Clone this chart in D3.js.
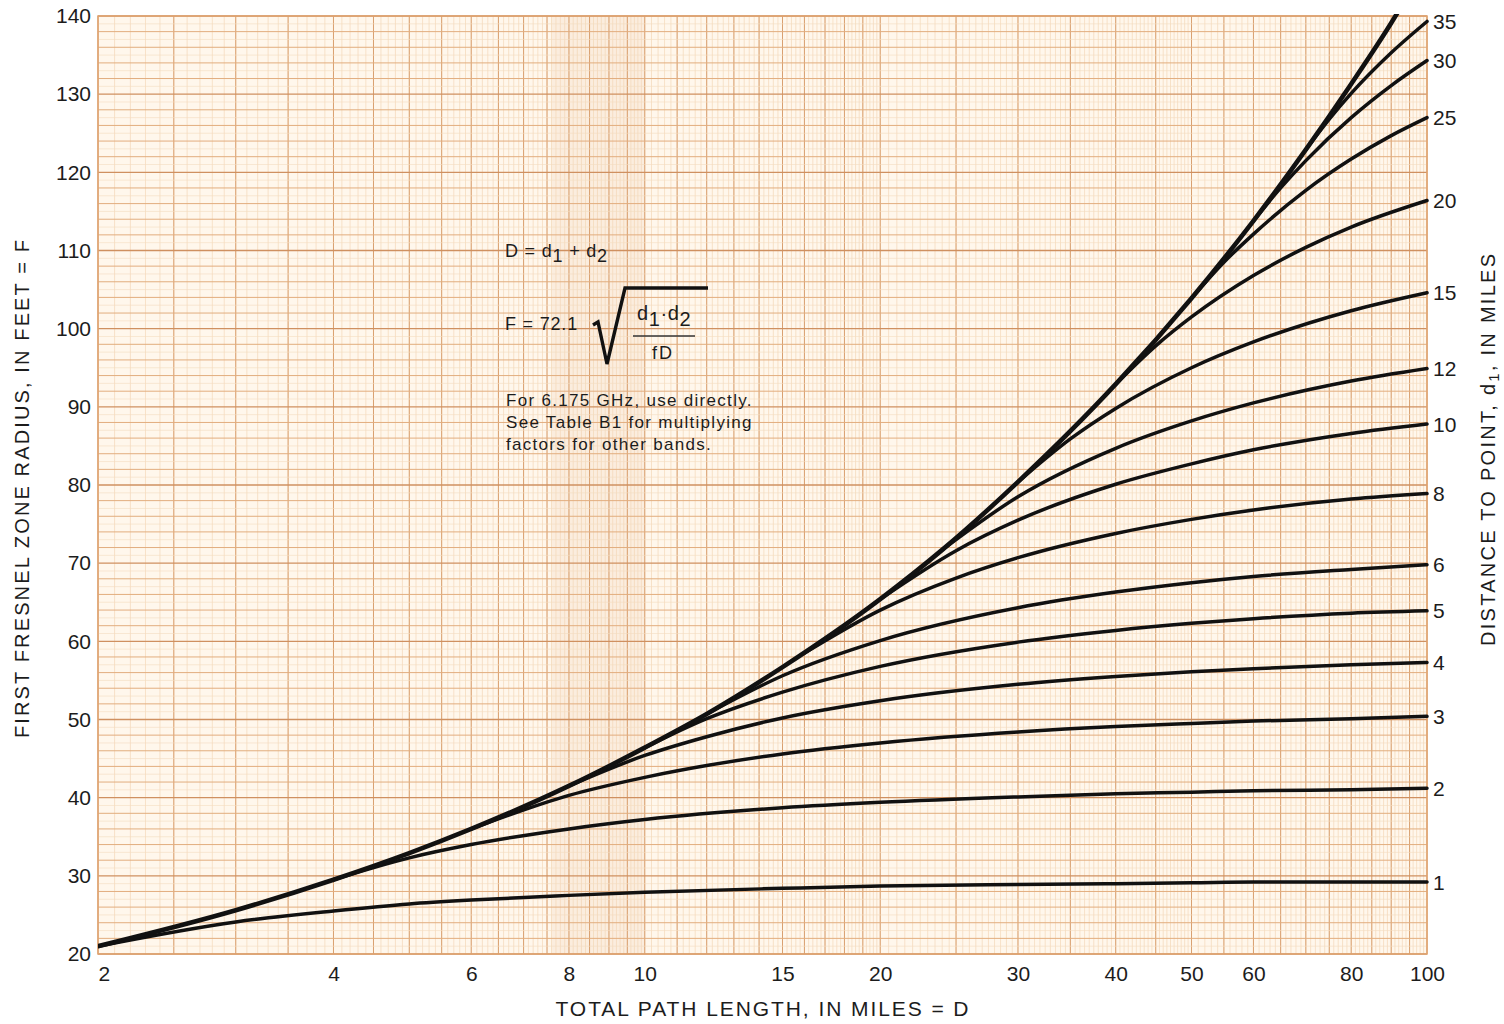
<!DOCTYPE html>
<html>
<head>
<meta charset="utf-8">
<script src="https://cdn.jsdelivr.net/npm/d3@7"></script>
<style>
  body { margin: 0; background: #ffffff; }
  svg text { font-family: "Liberation Sans", Arial, Helvetica, sans-serif; fill: #1c1c1c; }
</style>
</head>
<body>
<div id="chart"></div>
<script>
// tick labels
const xTicks = [2, 4, 6, 8, 10, 15, 20, 30, 40, 50, 60, 80, 100]
const yTicks = [20, 30, 40, 50, 60, 70, 80, 90, 100, 110, 120, 130, 140]

// distance to point d1 (miles), one curve each
const d1Values = [1, 2, 3, 4, 5, 6, 8, 10, 12, 15, 20, 25, 30, 35]

// readings: [total path D (miles), radius F (feet)]
const zone1 = [[2, 21.0], [3, 24.1], [4, 25.5], [5, 26.4], [6, 26.9], [8, 27.5], [10, 27.9], [15, 28.4], [20, 28.7], [30, 28.9], [40, 29.0], [50, 29.1], [60, 29.2], [80, 29.2], [100, 29.2]]
const zone2 = [[4, 29.5], [5, 32.3], [6, 34.0], [8, 36.0], [10, 37.2], [15, 38.7], [20, 39.4], [30, 40.1], [40, 40.5], [50, 40.7], [60, 40.9], [80, 41.0], [100, 41.2]]
const zone3 = [[6, 36.0], [8, 40.3], [10, 42.6], [15, 45.6], [20, 47.0], [30, 48.4], [40, 49.1], [50, 49.5], [60, 49.8], [80, 50.1], [100, 50.4]]
const zone4 = [[8, 41.5], [10, 45.4], [12, 47.8], [15, 50.2], [20, 52.4], [30, 54.5], [40, 55.5], [50, 56.1], [60, 56.5], [80, 57.0], [100, 57.3]]
const zone5 = [[10, 46.4], [12, 50.1], [15, 53.5], [20, 56.8], [30, 59.9], [40, 61.4], [50, 62.3], [60, 62.9], [80, 63.6], [100, 63.9]]
const zone6 = [[12, 50.7], [15, 55.6], [20, 60.1], [30, 64.3], [40, 66.3], [50, 67.5], [60, 68.3], [80, 69.2], [100, 69.8]]
const zone8 = [[16, 58.5], [20, 64.0], [25, 68.1], [30, 70.7], [40, 73.8], [50, 75.6], [60, 76.8], [80, 78.2], [100, 78.9]]
const zone10 = [[20, 65.4], [25, 71.6], [30, 75.5], [40, 80.1], [50, 82.7], [60, 84.5], [80, 86.6], [100, 87.8]]
const zone12 = [[24, 71.7], [30, 78.5], [40, 84.7], [50, 88.2], [60, 90.5], [80, 93.3], [100, 94.9]]
const zone15 = [[30, 80.4], [35, 85.9], [40, 89.8], [50, 95.0], [60, 98.3], [80, 102.3], [100, 104.6]]
const zone20 = [[40, 92.9], [45, 97.8], [50, 101.5], [60, 106.8], [70, 110.4], [80, 113.0], [100, 116.4]]
const zone25 = [[50, 103.9], [55, 108.5], [60, 112.1], [70, 117.7], [80, 121.7], [90, 124.7], [100, 127.0]]
const zone30 = [[60, 113.8], [65, 118.0], [70, 121.5], [80, 127.0], [90, 131.1], [100, 134.3]]
const zone35 = [[70, 122.9], [75, 126.8], [80, 130.1], [90, 135.3], [100, 139.3]]

// midpoint envelope (d1 = D/2)
const envelope = [[2, 21.0], [3, 25.6], [4, 29.5], [5, 32.9], [6, 36.0], [8, 41.5], [10, 46.4], [12, 50.7], [15, 56.7], [20, 65.4], [24, 71.7], [30, 80.4], [40, 92.9], [50, 103.9], [60, 113.8], [70, 122.9], [80, 131.3], [90, 139.1], [95, 143.0]]

const zoneSeries = [zone1, zone2, zone3, zone4, zone5, zone6, zone8, zone10, zone12, zone15, zone20, zone25, zone30, zone35]

const width = 1504, height = 1024
const plotLeft = 98, plotRight = 1427, plotTop = 16, plotBottom = 954

const svg = d3.select("#chart").append("svg")
    .attr("width", width)
    .attr("height", height)

const x = d3.scaleLog().domain([2, 100]).range([plotLeft, plotRight])
const y = d3.scaleLinear().domain([20, 140]).range([plotBottom, plotTop])

function drawPaper(svg){

    svg.append("rect")
        .attr("x", plotLeft).attr("y", plotTop)
        .attr("width", plotRight - plotLeft).attr("height", plotBottom - plotTop)
        .attr("fill", "#fff7ec")

    // darker strip of the paper sheet
    svg.append("rect")
        .attr("x", x(7.6)).attr("y", plotTop)
        .attr("width", x(10) - x(7.6)).attr("height", plotBottom - plotTop)
        .attr("fill", "rgba(215, 160, 100, 0.10)")

    let g = svg.append("g").attr("class", "paper")

    // fine vertical rulings of the log paper
    let fine = [].concat(
        d3.range(2, 10, 0.1),
        d3.range(10, 20, 0.2),
        d3.range(20, 50, 0.5),
        d3.range(50, 100.01, 1)
    )
    let major = [].concat(
        d3.range(2, 10, 0.5),
        d3.range(10, 20, 1),
        d3.range(20, 100.01, 5)
    )

    g.selectAll("line.vfine").data(fine).join("line")
        .attr("class", "vfine")
        .attr("x1", d => x(d)).attr("x2", d => x(d))
        .attr("y1", plotTop).attr("y2", plotBottom)
        .attr("stroke", "#f1d2ae")
        .attr("stroke-width", 0.6)

    g.selectAll("line.vmajor").data(major).join("line")
        .attr("class", "vmajor")
        .attr("x1", d => x(d)).attr("x2", d => x(d))
        .attr("y1", plotTop).attr("y2", plotBottom)
        .attr("stroke", "#d9a070")
        .attr("stroke-width", 1)

    // horizontal rulings, every foot, heavier every 2 and 10
    let rows = d3.range(20, 140.01, 1)
    g.selectAll("line.h").data(rows).join("line")
        .attr("class", "h")
        .attr("x1", plotLeft).attr("x2", plotRight)
        .attr("y1", d => y(d)).attr("y2", d => y(d))
        .attr("stroke", d => d % 10 === 0 ? "#cf9060" : (d % 2 === 0 ? "#e2ad7e" : "#f4dcc0"))
        .attr("stroke-width", d => d % 10 === 0 ? 1.4 : (d % 2 === 0 ? 1 : 0.6))

    svg.append("rect")
        .attr("x", plotLeft).attr("y", plotTop)
        .attr("width", plotRight - plotLeft).attr("height", plotBottom - plotTop)
        .attr("fill", "none")
        .attr("stroke", "#dfa472")
        .attr("stroke-width", 1.5)
}

function drawAxes(svg){

    let xAxis = svg.append("g")
        .attr("transform", `translate(0, ${plotBottom})`)
        .call(d3.axisBottom(x).tickValues(xTicks).tickFormat(d3.format("d")).tickSize(0).tickPadding(12))

    xAxis.select(".domain").remove()
    xAxis.selectAll("text")
        .attr("dy", "0.71em")
        .style("font-size", "21px")
        .attr("fill", "#1c1c1c")
    // first label sits inside the edge
    xAxis.selectAll(".tick").filter(d => d === 2).select("text")
        .attr("text-anchor", "start")
        .attr("x", 0)

    let yAxis = svg.append("g")
        .attr("transform", `translate(${plotLeft}, 0)`)
        .call(d3.axisLeft(y).tickValues(yTicks).tickSize(0).tickPadding(7))

    yAxis.select(".domain").remove()
    yAxis.selectAll("text")
        .style("font-size", "21px")
        .attr("fill", "#1c1c1c")

    // axis titles
    svg.append("text")
        .attr("x", 762).attr("y", 1016)
        .attr("text-anchor", "middle")
        .attr("textLength", 413)
        .attr("lengthAdjust", "spacing")
        .style("font-size", "21px")
        .text("TOTAL PATH LENGTH, IN MILES = D")

    svg.append("text")
        .attr("transform", "translate(29, 489) rotate(-90)")
        .attr("text-anchor", "middle")
        .attr("textLength", 498)
        .attr("lengthAdjust", "spacing")
        .style("font-size", "20px")
        .text("FIRST FRESNEL ZONE RADIUS, IN FEET = F")

    let rt = svg.append("text")
        .attr("transform", "translate(1495, 450) rotate(-90)")
        .attr("text-anchor", "middle")
        .attr("textLength", 392)
        .attr("lengthAdjust", "spacing")
        .style("font-size", "20px")
    rt.append("tspan").text("DISTANCE TO POINT, d")
    rt.append("tspan").attr("baseline-shift", "-25%").style("font-size", "15px").text("1")
    rt.append("tspan").attr("baseline-shift", "0").text(", IN MILES")
}

function drawCurves(svg){

    svg.append("defs").append("clipPath").attr("id", "plot-clip")
        .append("rect")
        .attr("x", plotLeft).attr("y", plotTop - 2)
        .attr("width", plotRight - plotLeft + 2).attr("height", plotBottom - plotTop + 2)

    let line = d3.line()
        .x(d => x(d[0]))
        .y(d => y(d[1]))
        .curve(d3.curveMonotoneX)

    let g = svg.append("g").attr("clip-path", "url(#plot-clip)")

    g.selectAll("path.zone").data(zoneSeries).join("path")
        .attr("class", "zone")
        .attr("d", line)
        .attr("fill", "none")
        .attr("stroke", "#111")
        .attr("stroke-width", 3.5)
        .attr("stroke-linecap", "round")

    g.append("path")
        .attr("d", line(envelope))
        .attr("fill", "none")
        .attr("stroke", "#111")
        .attr("stroke-width", 4.6)
        .attr("stroke-linecap", "round")

    // d1 labels at the right end of each curve
    svg.selectAll("text.d1").data(zoneSeries).join("text")
        .attr("class", "d1")
        .attr("x", plotRight + 6)
        .attr("y", d => y(d[d.length - 1][1]))
        .attr("dy", "0.36em")
        .style("font-size", "21px")
        .attr("fill", (d, i) => d1Values[i] === 25 ? "#3d5a3a" : "#1c1c1c")
        .text((d, i) => d1Values[i])
}

function drawFormula(svg){

    let g = svg.append("g").attr("class", "formula")
    let fs = "17px", col = "#333"

    let t1 = g.append("text").attr("x", 505).attr("y", 257)
        .style("font-size", "18px").style("letter-spacing", "0.8px").attr("fill", col)
    t1.append("tspan").text("D = d")
    t1.append("tspan").attr("baseline-shift", "-30%").text("1")
    t1.append("tspan").attr("baseline-shift", "0").text(" + d")
    t1.append("tspan").attr("baseline-shift", "-30%").text("2")

    g.append("text").attr("x", 505).attr("y", 330)
        .style("font-size", "18px").style("letter-spacing", "0.8px").attr("fill", col)
        .text("F = 72.1")

    // radical sign
    g.append("path")
        .attr("d", "M593,325 L598,322 L607,364 L625,288 L708,288")
        .attr("fill", "none")
        .attr("stroke", "#111")
        .attr("stroke-width", 3.4)
        .attr("stroke-linejoin", "miter")

    let num = g.append("text").attr("x", 637).attr("y", 320)
        .style("font-size", "20px").style("letter-spacing", "0.6px").attr("fill", col)
    num.append("tspan").text("d")
    num.append("tspan").attr("baseline-shift", "-30%").text("1")
    num.append("tspan").attr("baseline-shift", "0").text("·d")
    num.append("tspan").attr("baseline-shift", "-30%").text("2")

    g.append("line")
        .attr("x1", 633).attr("x2", 695)
        .attr("y1", 336).attr("y2", 336)
        .attr("stroke", "#333").attr("stroke-width", 1.5)

    g.append("text").attr("x", 652).attr("y", 359)
        .style("font-size", "18px").style("letter-spacing", "2px").attr("fill", col)
        .text("fD")

    let notes = ["For 6.175 GHz, use directly.", "See Table B1 for multiplying", "factors for other bands."]
    g.selectAll("text.note").data(notes).join("text")
        .attr("class", "note")
        .attr("x", 506)
        .attr("y", (d, i) => 406 + i * 22)
        .style("font-size", fs)
        .style("letter-spacing", "1.3px")
        .attr("fill", col)
        .text(d => d)
}

drawPaper(svg)
drawCurves(svg)
drawAxes(svg)
drawFormula(svg)
</script>
</body>
</html>
